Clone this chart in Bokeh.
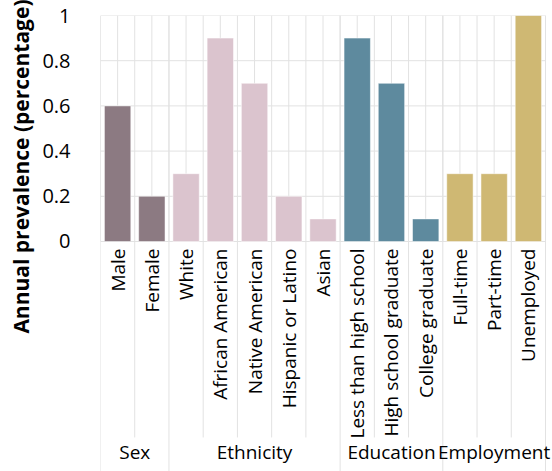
import math
from bokeh.plotting import figure
from bokeh.models import Range1d, FixedTicker, ColumnDataSource, Title
from bokeh.core.properties import value
from bokeh.embed import file_html
from bokeh.resources import INLINE

# ---- data ----
categories = ["Male", "Female", "White", "African American", "Native American",
              "Hispanic or Latino", "Asian", "Less than high school",
              "High school graduate", "College graduate", "Full-time",
              "Part-time", "Unemployed"]
cat_groups = ["Sex", "Sex", "Ethnicity", "Ethnicity", "Ethnicity", "Ethnicity",
              "Ethnicity", "Education", "Education", "Education", "Employment",
              "Employment", "Employment"]
prevalence = [0.6, 0.2, 0.3, 0.9, 0.7, 0.2, 0.1, 0.9, 0.7, 0.1, 0.3, 0.3, 1.0]
groups = ["Sex", "Ethnicity", "Education", "Employment"]
group_colors = {"Sex": "#8c7a82", "Ethnicity": "#dbc4ce",
                "Education": "#5e8a9e", "Employment": "#cfb873"}
y_ticks = [0, 0.2, 0.4, 0.6, 0.8, 1.0]
y_tick_labels = ["0", "0.2", "0.4", "0.6", "0.8", "1"]
y_label = "Annual prevalence (percentage)"

FONT = "Open Sans"
GRID = "#e2e2e2"
n = len(categories)
CAT_PX = 445.0 / n            # pixel width of one category
EXTRA_RIGHT = 7.0 / CAT_PX    # room right of the last separator for text
Y_BOTTOM = -1.0177
SEP_BOTTOM = -0.867
LABEL_Y = -0.031
GROUP_Y = -0.93

p = figure(width=552, height=471, output_backend="svg", toolbar_location=None,
           x_range=Range1d(0, n + EXTRA_RIGHT), y_range=Range1d(Y_BOTTOM, 1.0),
           x_axis_location=None, min_border_left=100, min_border_right=0,
           min_border_top=15, min_border_bottom=0)
p.outline_line_color = None
p.grid.visible = False

# y axis
ax = p.yaxis[0]
ax.ticker = FixedTicker(ticks=y_ticks)
ax.major_label_overrides = {t: l for t, l in zip(y_ticks, y_tick_labels)}
ax.axis_line_color = None
ax.major_tick_line_color = None
ax.minor_tick_line_color = None
ax.major_label_text_font = FONT
ax.major_label_text_font_size = "20px"
ax.major_label_text_color = "#000000"
ax.major_label_standoff = 24

# y title (left), placed toward the top like the reference
t = Title(text=y_label, align="right", offset=-16, text_font=FONT,
          text_font_style="bold", text_font_size="21px", text_color="#000000")
if "standoff" in Title.properties():
    t.standoff = 9
p.add_layout(t, "left")

# horizontal gridlines
p.segment(x0=[0] * len(y_ticks), y0=y_ticks, x1=[n] * len(y_ticks), y1=y_ticks,
          line_color=GRID, line_width=1)

# vertical gridlines inside plot (category boundaries and centres)
gx = [k * 0.5 for k in range(2 * n + 1)]
p.segment(x0=gx, y0=[0] * len(gx), x1=gx, y1=[1.0] * len(gx),
          line_color=GRID, line_width=1)

# category separators below axis
starts = [cat_groups.index(g) for g in groups]
bounds_full = starts + [n]
cat_seps = [i for i in range(1, n) if i not in bounds_full]
p.segment(x0=cat_seps, y0=[0] * len(cat_seps), x1=cat_seps,
          y1=[SEP_BOTTOM] * len(cat_seps), line_color=GRID, line_width=1)
p.segment(x0=bounds_full, y0=[1.0] * len(bounds_full), x1=bounds_full,
          y1=[Y_BOTTOM] * len(bounds_full), line_color=GRID, line_width=1)

# bars
src = ColumnDataSource(dict(
    x=[i + 0.5 for i in range(n)], top=prevalence,
    color=[group_colors[g] for g in cat_groups], label=categories))
p.vbar(x="x", top="top", bottom=0, width=0.77, fill_color="color",
       line_color="white", line_width=0.5, source=src)

# category labels
p.text(x="x", y=LABEL_Y, text="label", angle=math.pi / 2, source=src,
       text_align="right", text_baseline="middle", text_font=value(FONT),
       text_font_size="19px", text_color="#000000")

# group labels
gx_c = [(bounds_full[i] + bounds_full[i + 1]) / 2 for i in range(len(groups))]
p.text(x=gx_c, y=[GROUP_Y] * len(groups), text=groups, text_align="center",
       text_baseline="middle", text_font=value(FONT), text_font_size="19px",
       text_color="#000000")

open("out.html", "w").write(file_html(p, INLINE))
